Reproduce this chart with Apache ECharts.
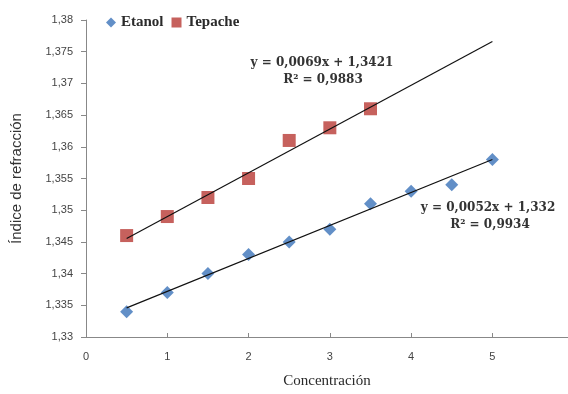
<!DOCTYPE html>
<html>
<head>
<meta charset="utf-8">
<script src="https://cdn.jsdelivr.net/npm/echarts@6/dist/echarts.min.js"></script>
<style>
html, body { margin: 0; padding: 0; background: #fff; }
#chart { width: 568px; height: 394px; }
</style>
</head>
<body>
<div id="chart"></div>
<script>
var etanolX = [0.5, 1, 1.5, 2, 2.5, 3, 3.5, 4, 4.5, 5];
var etanolY = [1.334, 1.337, 1.340, 1.343, 1.345, 1.347, 1.351, 1.353, 1.354, 1.358];
var tepacheX = [0.5, 1, 1.5, 2, 2.5, 3, 3.5];
var tepacheY = [1.346, 1.349, 1.352, 1.355, 1.361, 1.363, 1.366];
var etanolTrend = [[0.5, 1.3346], [5, 1.358]];
var tepacheTrend = [[0.5, 1.34555], [5, 1.3766]];
var xTicks = [0, 1, 2, 3, 4, 5];
var eqEtanol = ['y = 0,0052x + 1,332', 'R² = 0,9934'];
var eqTepache = ['y = 0,0069x + 1,3421', 'R² = 0,9883'];

function pair(xs, ys) {
    return xs.map(function (x, i) { return [x, ys[i]]; });
}
function comma(v) {
    return String(+v.toFixed(3)).replace('.', ',');
}

var serif = 'Liberation Serif';
var sans = '"Liberation Sans Narrow", "Liberation Sans"';
var eqFont = 'bold 12px "DejaVu Serif"';

function eq(text, x, y) {
    return {
        type: 'text', x: x, y: y,
        style: { text: text, font: eqFont, fill: '#333', align: 'center', verticalAlign: 'middle' }
    };
}

var chart = echarts.init(document.getElementById('chart'));
chart.setOption({
    animation: false,
    grid: { left: 86, right: 0, top: 20, bottom: 53 },
    legend: {
        left: 101, top: 10,
        itemGap: 8, itemWidth: 10, itemHeight: 10,
        textStyle: { fontFamily: serif, fontSize: 15, fontWeight: 'bold', color: '#2a2a2a' },
        data: [
            { name: 'Etanol', icon: 'diamond' },
            { name: 'Tepache', icon: 'rect' }
        ]
    },
    xAxis: {
        type: 'value', min: 0, max: 5.93, interval: 1,
        name: 'Concentración', nameLocation: 'middle', nameGap: 37,
        nameTextStyle: { fontFamily: serif, fontSize: 15, color: '#2a2a2a' },
        splitLine: { show: false },
        axisLine: { lineStyle: { color: '#888' } },
        axisTick: { show: true, length: 4, inside: true, customValues: xTicks, lineStyle: { color: '#888' } },
        axisLabel: { customValues: xTicks, fontFamily: sans, fontSize: 11, color: '#444', margin: 14 }
    },
    yAxis: {
        type: 'value', min: 1.33, max: 1.38, interval: 0.005,
        name: 'Índice de refracción', nameLocation: 'middle', nameGap: 62,
        nameTextStyle: { fontFamily: sans, fontSize: 15, color: '#333' },
        splitLine: { show: false },
        axisLine: { show: true, lineStyle: { color: '#888' } },
        axisTick: { show: true, length: 5, lineStyle: { color: '#888' } },
        axisLabel: { formatter: comma, fontFamily: sans, fontSize: 11, color: '#444', margin: 13 }
    },
    series: [
        {
            name: 'Etanol', type: 'scatter', symbol: 'diamond', symbolSize: 13,
            itemStyle: { color: '#3b73b9' }, z: 3,
            data: pair(etanolX, etanolY)
        },
        {
            name: 'Tepache', type: 'scatter', symbol: 'rect', symbolSize: 13,
            itemStyle: { color: '#b83a35' }, z: 3,
            data: pair(tepacheX, tepacheY)
        },
        {
            name: 'trendE', type: 'line', symbol: 'none', z: 4,
            lineStyle: { color: '#111', width: 1.2 },
            data: etanolTrend
        },
        {
            name: 'trendT', type: 'line', symbol: 'none', z: 4,
            lineStyle: { color: '#111', width: 1.2 },
            data: tepacheTrend
        }
    ],
    graphic: [
        eq(eqTepache[0], 322, 63),
        eq(eqTepache[1], 323, 80),
        eq(eqEtanol[0], 488, 208),
        eq(eqEtanol[1], 490, 225)
    ]
});
</script>
</body>
</html>
